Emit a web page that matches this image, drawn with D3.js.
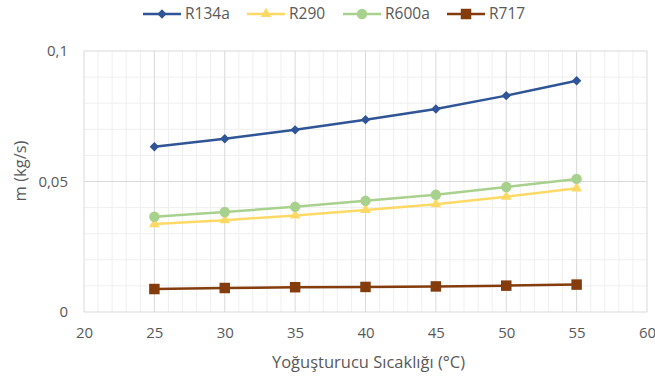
<!DOCTYPE html>
<html>
<head>
<meta charset="utf-8">
<script src="https://cdn.jsdelivr.net/npm/d3@7"></script>
<style>
  body { margin: 0; background: #fff; }
  svg { font-family: "Open Sans", "Noto Sans", sans-serif; }
</style>
</head>
<body>
<div id="chart"></div>
<script>
const temps = [25, 30, 35, 40, 45, 50, 55];
const r134a = [0.0633, 0.0664, 0.0698, 0.0737, 0.0778, 0.0829, 0.0886];
const r290 = [0.0337, 0.0352, 0.0370, 0.0391, 0.0413, 0.0442, 0.0474];
const r600a = [0.0365, 0.0383, 0.0403, 0.0426, 0.0449, 0.0479, 0.0510];
const r717 = [0.0088, 0.0092, 0.0095, 0.0096, 0.0098, 0.0101, 0.0105];
const seriesNames = ["R134a", "R290", "R600a", "R717"];
const xTicks = [20, 25, 30, 35, 40, 45, 50, 55, 60];
const yTicks = [0, 0.05, 0.1];

const series = [
  { name: "R134a", values: r134a, color: "#2F5597", shape: "diamond" },
  { name: "R290", values: r290, color: "#FFD966", shape: "triangle" },
  { name: "R600a", values: r600a, color: "#A9D18E", shape: "circle" },
  { name: "R717", values: r717, color: "#843C0C", shape: "square" }
];

const W = 655, H = 378;
const margin = { top: 51, right: 8, bottom: 66, left: 84 };
const width = W - margin.left - margin.right,
    height = H - margin.top - margin.bottom;

const svg = d3.select("#chart").append("svg")
    .attr("width", W)
    .attr("height", H);

const g = svg.append("g").attr("transform", `translate(${margin.left},${margin.top})`);

const x = d3.scaleLinear().domain([20, 60]).range([0, width]);
const y = d3.scaleLinear().domain([0, 0.1]).range([height, 0]);

// minor grid
g.append("g").selectAll("line")
    .data(d3.range(20, 61, 1).filter(v => v % 5 !== 0))
    .enter().append("line")
    .attr("x1", d => x(d)).attr("x2", d => x(d))
    .attr("y1", 0).attr("y2", height)
    .attr("stroke", "#EFEFEF").attr("stroke-width", 1);
g.append("g").selectAll("line")
    .data(d3.range(1, 10).filter(v => v !== 5).map(v => v / 100))
    .enter().append("line")
    .attr("y1", d => y(d)).attr("y2", d => y(d))
    .attr("x1", 0).attr("x2", width)
    .attr("stroke", "#EFEFEF").attr("stroke-width", 1);

// major grid
g.append("g").selectAll("line")
    .data(xTicks)
    .enter().append("line")
    .attr("x1", d => x(d)).attr("x2", d => x(d))
    .attr("y1", 0).attr("y2", height)
    .attr("stroke", "#D9D9D9").attr("stroke-width", 1);
g.append("g").selectAll("line")
    .data(yTicks)
    .enter().append("line")
    .attr("y1", d => y(d)).attr("y2", d => y(d))
    .attr("x1", 0).attr("x2", width)
    .attr("stroke", "#D9D9D9").attr("stroke-width", 1);

// axes (labels only)
const fmt = d => String(d).replace(".", ",");
const xAxis = g.append("g").attr("transform", `translate(0,${height})`)
    .call(d3.axisBottom(x).tickValues(xTicks).tickSize(0).tickPadding(15).tickFormat(d => d));
const yAxis = g.append("g")
    .call(d3.axisLeft(y).tickValues(yTicks).tickSize(0).tickPadding(16).tickFormat(fmt));
[xAxis, yAxis].forEach(a => {
  a.select(".domain").remove();
  a.selectAll("text").attr("fill", "#595959").style("font-size", "15px")
      .style("font-family", "'Open Sans', sans-serif");
});

svg.append("text")
    .attr("x", margin.left + width / 2 + 3)
    .attr("y", 367.5)
    .attr("text-anchor", "middle")
    .attr("fill", "#595959")
    .style("font-size", "16.5px")
    .text("Yoğuşturucu Sıcaklığı (°C)");

svg.append("text")
    .attr("transform", `translate(26,171) rotate(-90)`)
    .attr("text-anchor", "middle")
    .attr("fill", "#595959")
    .style("font-size", "16.5px")
    .text("m (kg/s)");

const symbolFor = shape => {
  if (shape === "diamond") return d3.symbol().type(d3.symbolSquare).size(44);
  if (shape === "triangle") return d3.symbol().type(d3.symbolTriangle).size(50);
  if (shape === "circle") return d3.symbol().type(d3.symbolCircle).size(85);
  return d3.symbol().type(d3.symbolSquare).size(110);
};

const line = d3.line().x(d => x(d[0])).y(d => y(d[1]));

series.forEach(s => {
  const pts = temps.map((t, i) => [t, s.values[i]]);
  g.append("path")
      .datum(pts)
      .attr("fill", "none")
      .attr("stroke", s.color)
      .attr("stroke-width", 2.5)
      .attr("d", line);
  g.append("g").selectAll("path")
      .data(pts)
      .enter().append("path")
      .attr("d", symbolFor(s.shape))
      .attr("transform", d => `translate(${x(d[0])},${y(d[1])})` + (s.shape === "diamond" ? " rotate(45)" : ""))
      .attr("fill", s.color);
});

// legend
const legendX = [143, 247, 343, 447];
const legend = svg.append("g").attr("transform", "translate(0,14)");
series.forEach((s, i) => {
  const lg = legend.append("g").attr("transform", `translate(${legendX[i]},0)`);
  lg.append("line").attr("x1", 0).attr("x2", 38).attr("y1", 0).attr("y2", 0)
      .attr("stroke", s.color).attr("stroke-width", 2.5);
  lg.append("path").attr("d", symbolFor(s.shape))
      .attr("transform", "translate(19,0)" + (s.shape === "diamond" ? " rotate(45)" : ""))
      .attr("fill", s.color);
  lg.append("text").attr("x", 42).attr("y", 0).attr("dy", "0.35em")
      .attr("fill", "#595959").style("font-size", "15.5px")
      .text(seriesNames[i]);
});
</script>
</body>
</html>
